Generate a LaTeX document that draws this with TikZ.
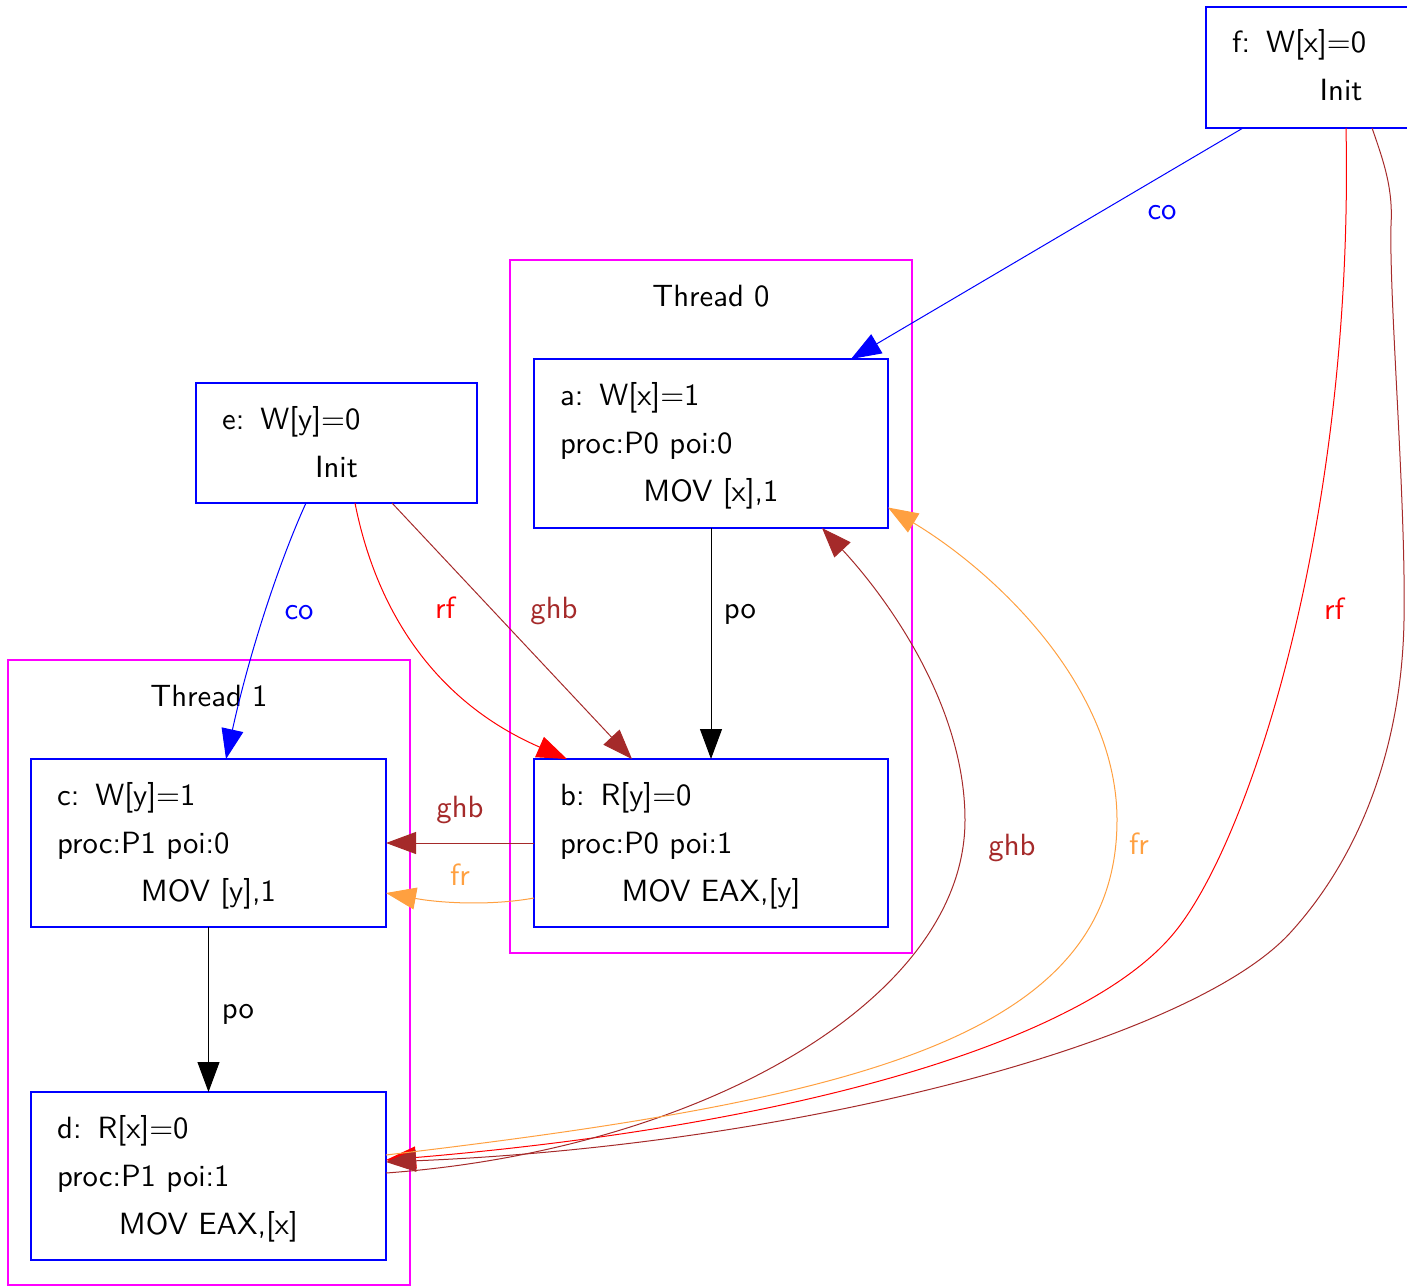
\documentclass[tikz,border=0pt]{standalone}
\usepackage{graphicx}
\usetikzlibrary{arrows.meta,calc}
\definecolor{cblue}{RGB}{0,0,255}
\definecolor{cred}{RGB}{255,0,0}
\definecolor{cbrown}{RGB}{165,42,42}
\definecolor{corange}{RGB}{255,160,64}
\definecolor{cmag}{RGB}{255,0,255}
\newcommand{\tx}[1]{\scalebox{3.07}{\fontsize{10}{12}\selectfont\sffamily #1}}
\newcommand{\gap}{\hspace{0.52em}}
\begin{document}
\begin{tikzpicture}[x=1pt,y=-1pt,
  box/.style={draw=cblue, line width=1.2pt, rectangle, inner sep=0pt, outer sep=0pt},
  cluster/.style={draw=cmag, line width=1.2pt, rectangle, inner sep=0pt, outer sep=0pt},
  lbl/.style={inner sep=0pt, anchor=base},
  txl/.style={inner sep=0pt, anchor=base west},
  edge/.style={line width=1pt, -{Triangle[length=30pt,width=22pt]}},
]
\path[use as bounding box] (0,0) rectangle (1407,1287);
\clip (0,0) rectangle (1407,1287);

% clusters
\node[cluster, minimum width=402pt, minimum height=693pt] (t0) at (711,606.5) {};
\node[lbl] (t0lab) at (711,306) {\tx{Thread 0}};
\node[cluster, minimum width=402pt, minimum height=625pt] (t1) at (209,972.5) {};
\node[lbl] (t1lab) at (209,706) {\tx{Thread 1}};

% boxes
\node[box, minimum width=270pt, minimum height=121pt] (f) at (1341,67.5) {};
\node[box, minimum width=354pt, minimum height=169pt] (a) at (711,443.5) {};
\node[box, minimum width=354pt, minimum height=168pt] (b) at (711,843) {};
\node[box, minimum width=355pt, minimum height=168pt] (c) at (208.5,843) {};
\node[box, minimum width=355pt, minimum height=168pt] (d) at (208.5,1176) {};
\node[box, minimum width=281pt, minimum height=120pt] (e) at (336.5,443) {};

% box texts
\node[txl] (f1) at (1232,53) {\tx{f:\gap W[x]=0}};
\node[lbl] (f2) at (1341,101) {\tx{Init}};
\node[txl] (e1) at (222,429) {\tx{e:\gap W[y]=0}};
\node[lbl] (e2) at (336.5,477) {\tx{Init}};
\node[txl] (a1) at (560,405) {\tx{a:\gap W[x]=1}};
\node[txl] (a2) at (560,453) {\tx{proc:P0 poi:0}};
\node[lbl] (a3) at (711,501) {\tx{MOV [x],1}};
\node[txl] (b1) at (560,805) {\tx{b:\gap R[y]=0}};
\node[txl] (b2) at (560,853) {\tx{proc:P0 poi:1}};
\node[lbl] (b3) at (711,901) {\tx{MOV EAX,[y]}};
\node[txl] (c1) at (57,805) {\tx{c:\gap W[y]=1}};
\node[txl] (c2) at (57,853) {\tx{proc:P1 poi:0}};
\node[lbl] (c3) at (208.5,901) {\tx{MOV [y],1}};
\node[txl] (d1) at (57,1138) {\tx{d:\gap R[x]=0}};
\node[txl] (d2) at (57,1186) {\tx{proc:P1 poi:1}};
\node[lbl] (d3) at (208.5,1234) {\tx{MOV EAX,[x]}};

% edges
\draw[edge, cblue] ($(f.south west)+(37,0)$) -- ($(a.north west)+(317,0)$);
\draw[edge, cblue] ($(e.south west)+(110,0)$) .. controls (280,560) and (250,650) .. ($(c.north west)+(195,0)$);
\draw[edge, cred] ($(e.south west)+(159,0)$) .. controls (372,590) and (420,695) .. ($(b.north west)+(33,0)$);
\draw[edge, cbrown] ($(e.south west)+(196,0)$) -- ($(b.north west)+(98,0)$);
\draw[edge, black] (a.south) -- (b.north);
\draw[edge, black] (c.south) -- (d.north);
\draw[edge, cbrown] (b.west) -- (c.east);
\draw[edge, corange] ($(b.west)+(0,55)$) .. controls (490,906) and (440,903) .. ($(c.east)+(0,50)$);
\draw[edge, cred] ($(f.south west)+(140,0)$) .. controls (1354,520) and (1250,841) .. (1174,933)
   .. controls (1085,1041) and (800,1125) .. ($(d.east)+(0,-16)$);
\draw[edge, cbrown] ($(f.south west)+(166,0)$) .. controls (1385,165) and (1393,190) .. (1391,225)
   .. controls (1389,300) and (1406,500) .. (1404,620)
   .. controls (1402,740) and (1364,852) .. (1290,933)
   .. controls (1190,1042) and (800,1145) .. ($(d.east)+(0,-14)$);
\draw[edge, cbrown] ($(d.east)+(0,-3)$) .. controls (700,1150) and (965,1000) .. (965,820)
   .. controls (965,700) and (880,590) .. ($(a.south west)+(288,0)$);
\draw[edge, corange] ($(d.east)+(0,-21)$) .. controls (850,1100) and (1117,1040) .. (1117,820)
   .. controls (1117,690) and (1000,575) .. ($(a.east)+(0,64)$);

% edge labels
\node[lbl, cblue] (lco1) at (1162,219) {\tx{co}};
\node[lbl, cblue] (lco2) at (299,619) {\tx{co}};
\node[lbl, cred] (lrf1) at (445,618) {\tx{rf}};
\node[lbl, cbrown] (lghb1) at (554,618) {\tx{ghb}};
\node[lbl] (lpo1) at (740,618) {\tx{po}};
\node[lbl, cbrown] (lghb2) at (460,817) {\tx{ghb}};
\node[lbl, corange] (lfr1) at (460,885) {\tx{fr}};
\node[lbl] (lpo2) at (238,1018) {\tx{po}};
\node[lbl, cbrown] (lghb3) at (1012,855) {\tx{ghb}};
\node[lbl, corange] (lfr2) at (1139,854) {\tx{fr}};
\node[lbl, cred] (lrf2) at (1334,619) {\tx{rf}};
\end{tikzpicture}
\end{document}
